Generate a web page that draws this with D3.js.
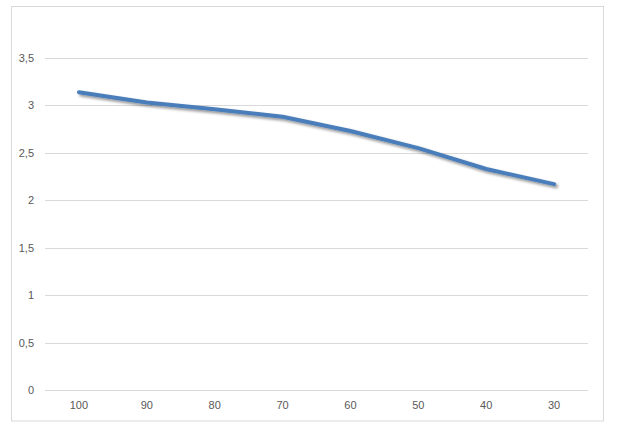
<!DOCTYPE html>
<html lang="en">
<head>
<meta charset="utf-8">
<style>
body { margin: 0; background: #fff; }
text { font-family: "Liberation Sans", Arial, sans-serif; font-size: 11px; fill: #595959; }
.grid line { stroke: #d9d9d9; stroke-width: 1px; }
</style>
</head>
<body>
<svg width="617" height="425"></svg>
<script src="https://d3js.org/d3.v7.min.js"></script>
<script>
var categories = ["100", "90", "80", "70", "60", "50", "40", "30"];
var values = [3.14, 3.03, 2.96, 2.88, 2.73, 2.55, 2.33, 2.17];
var yTicks = [0, 0.5, 1, 1.5, 2, 2.5, 3, 3.5];

var svg = d3.select("svg");

// chart frame
svg.append("rect")
    .attr("x", 11.5).attr("y", 6.5)
    .attr("width", 592).attr("height", 414.5)
    .attr("fill", "#fff")
    .attr("stroke", "#d9d9d9");

var x = d3.scaleBand().domain(categories).range([45, 588]);
var y = d3.scaleLinear().domain([0, 3.5]).range([390, 58]);

var fmt = function(d) { return String(d).replace(".", ","); };

var grid = svg.append("g").attr("class", "grid");
grid.selectAll("line")
    .data(yTicks)
    .enter().append("line")
    .attr("x1", 45).attr("x2", 588)
    .attr("y1", function(d) { return Math.round(y(d)) + 0.5; })
    .attr("y2", function(d) { return Math.round(y(d)) + 0.5; });

svg.selectAll(".ylab")
    .data(yTicks)
    .enter().append("text")
    .attr("class", "ylab")
    .attr("x", 34)
    .attr("y", function(d) { return y(d) + 4; })
    .attr("text-anchor", "end")
    .text(fmt);

svg.selectAll(".xlab")
    .data(categories)
    .enter().append("text")
    .attr("class", "xlab")
    .attr("x", function(d) { return x(d) + x.bandwidth() / 2; })
    .attr("y", 409)
    .attr("text-anchor", "middle")
    .text(function(d) { return d; });

var defs = svg.append("defs");
var f = defs.append("filter").attr("id", "shadow")
    .attr("x", "-10%").attr("y", "-50%").attr("width", "120%").attr("height", "200%");
f.append("feGaussianBlur").attr("in", "SourceAlpha").attr("stdDeviation", 1.5);
f.append("feOffset").attr("dx", 1.5).attr("dy", 2).attr("result", "ob");
f.append("feComponentTransfer").append("feFuncA").attr("type", "linear").attr("slope", 0.45);
var m = f.append("feMerge");
m.append("feMergeNode");
m.append("feMergeNode").attr("in", "SourceGraphic");

var line = d3.line()
    .x(function(d, i) { return x(categories[i]) + x.bandwidth() / 2; })
    .y(function(d) { return y(d); });

svg.append("path")
    .datum(values)
    .attr("d", line)
    .attr("fill", "none")
    .attr("stroke", "#4a7ebb")
    .attr("stroke-width", 4)
    .attr("stroke-linejoin", "round")
    .attr("stroke-linecap", "round")
    .attr("filter", "url(#shadow)");
</script>
</body>
</html>
